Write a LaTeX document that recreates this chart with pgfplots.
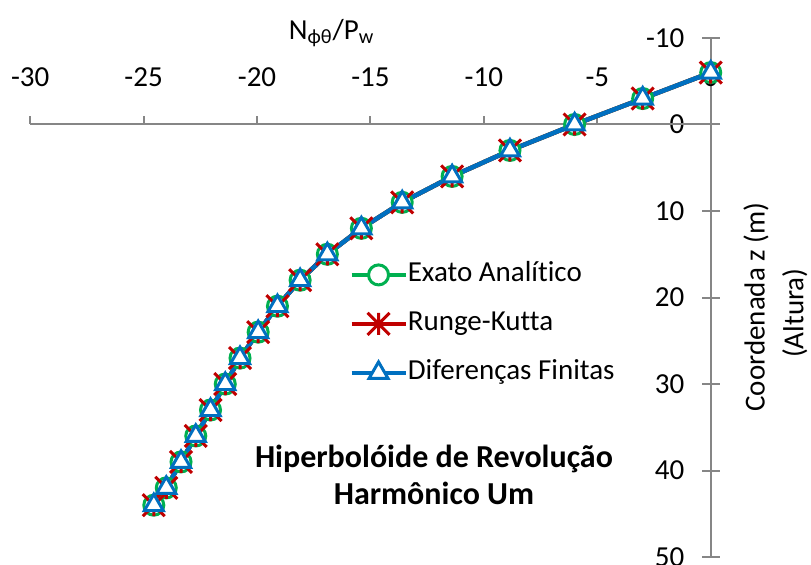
\documentclass[border=0pt]{standalone}
\usepackage{pgfplots}
\usepackage{pgfplotstable}
\pgfplotsset{compat=1.18}
\usepackage{fontspec}
\setmainfont{Carlito}[Ligatures=NoCommon]
\definecolor{cgreen}{HTML}{00B050}
\definecolor{cred}{HTML}{C00000}
\definecolor{cblue}{HTML}{0070C0}
\definecolor{axgray}{HTML}{868686}
\pgfdeclareplotmark{xstar}{%
  \pgfpathmoveto{\pgfqpoint{-\pgfplotmarksize}{-\pgfplotmarksize}}%
  \pgfpathlineto{\pgfqpoint{\pgfplotmarksize}{\pgfplotmarksize}}%
  \pgfpathmoveto{\pgfqpoint{-\pgfplotmarksize}{\pgfplotmarksize}}%
  \pgfpathlineto{\pgfqpoint{\pgfplotmarksize}{-\pgfplotmarksize}}%
  \pgfpathmoveto{\pgfqpoint{0pt}{-\pgfplotmarksize}}%
  \pgfpathlineto{\pgfqpoint{0pt}{\pgfplotmarksize}}%
  \pgfusepathqstroke}
\pgfplotstableread{
x z
0 -6
-3.0 -3
-6.0 0
-8.85 3
-11.4 6
-13.6 9
-15.4 12
-16.9 15
-18.1 18
-19.1 21
-19.95 24
-20.75 27
-21.4 30
-22.05 33
-22.7 36
-23.35 39
-24.0 42
-24.55 44
}\exato
\pgfplotstableread{
x z
0 -6
-3.0 -3
-6.0 0
-8.85 3
-11.4 6
-13.6 9
-15.4 12
-16.9 15
-18.1 18
-19.1 21
-19.95 24
-20.75 27
-21.4 30
-22.05 33
-22.7 36
-23.35 39
-24.0 42
-24.55 44
}\runge
\pgfplotstableread{
x z
0 -6
-3.0 -3
-6.0 0
-8.85 3
-11.4 6
-13.6 9
-15.4 12
-16.9 15
-18.1 18
-19.1 21
-19.95 24
-20.75 27
-21.4 30
-22.05 33
-22.7 36
-23.35 39
-24.0 42
-24.55 44
}\difer
\begin{document}
\begin{tikzpicture}
\pgfplotsset{
  base/.style={scale only axis, width=340.2pt, height=259.5pt,
    xmin=-30, xmax=0, ymin=-10, ymax=50, y dir=reverse, clip=false,
    /pgf/number format/assume math mode=true,
    tick label style={font=\fontsize{14.5}{17}\selectfont, text=black},
    axis line style={axgray, line width=1pt},
    every tick/.style={axgray, line width=1pt}},
}
\begin{axis}[base, axis x line=none, axis y line*=right,
  ytick={-10,0,...,50}, ytick align=center, major tick length=9pt,
  yticklabel style={anchor=east, inner sep=0pt, xshift=-17.5pt}]
\end{axis}
\begin{axis}[base, axis y line=none, axis x line*=middle,
  xtick={-30,-25,...,0}, xtick align=outside, major tick length=4pt,
  xticklabel style={anchor=base, inner sep=0pt, yshift=22.75pt},
  legend cell align=left,
  legend image code/.code={\draw[mark repeat=2,mark phase=2,#1] plot coordinates {(0pt,0pt) (13.5pt,0pt) (27pt,0pt)};},
  legend style={draw=none, fill=none, at={(axis cs:-15.95,23.05)}, anchor=west,
    inner sep=0pt, row sep=11.5pt, font=\fontsize{14.5}{17}\selectfont,
    nodes={text height=10pt, text depth=3pt, inner sep=0pt, xshift=3pt}},
  ]
\addplot[cgreen, line width=2.25pt, mark=*, mark size=5pt, mark options={line width=1.5pt, fill=white, draw=cgreen}] table[x=x,y=z]{\exato};
\addlegendentry{Exato Analítico}
\addplot[cred, line width=2.25pt, mark=xstar, mark size=5.5pt, mark options={line width=1.5pt}] table[x=x,y=z]{\runge};
\addlegendentry{Runge-Kutta}
\addplot[cblue, line width=2.25pt, mark=triangle*, mark size=5.5pt, mark options={line width=1.5pt, fill=white, draw=cblue}] table[x=x,y=z]{\difer};
\addlegendentry{Diferenças Finitas}
\node[anchor=base, font=\fontsize{14.5}{17}\selectfont] at (axis cs:-16.71,-9.88) {N\textsubscript{ϕθ}/P\textsubscript{w}};
\node[anchor=base, font=\fontsize{16}{19}\selectfont\bfseries] at (axis cs:-12.2,39.6) {Hiperbolóide de Revolução};
\node[anchor=base, font=\fontsize{16}{19}\selectfont\bfseries] at (axis cs:-12.2,43.87) {Harmônico Um};
\node[anchor=base, rotate=90, font=\fontsize{14.5}{17}\selectfont] at (axis cs:2.38,21.1) {Coordenada z (m)};
\node[anchor=base, rotate=90, font=\fontsize{14.5}{17}\selectfont] at (axis cs:4.08,21.8) {(Altura)};
\coordinate (bbsw) at (axis cs:-31.33,50.81);
\coordinate (bbne) at (axis cs:4.42,-14.39);
\end{axis}
\pgfresetboundingbox
\path[use as bounding box] (bbsw) rectangle (bbne);
\end{tikzpicture}
\end{document}
